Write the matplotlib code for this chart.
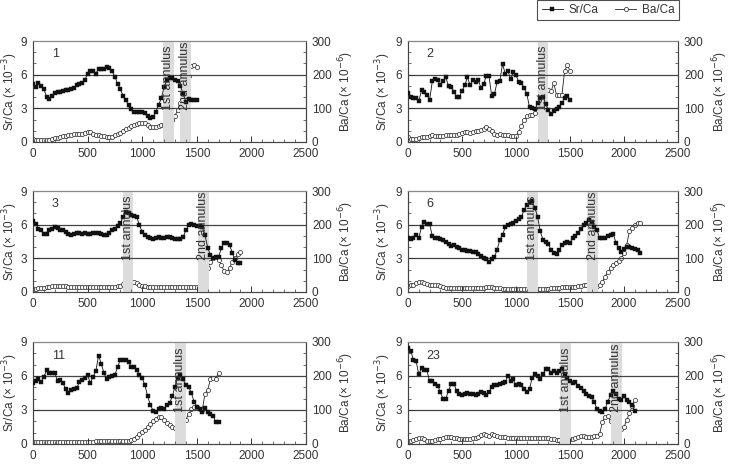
import numpy as np
import matplotlib
matplotlib.use("Agg")
import matplotlib.pyplot as plt
from matplotlib.lines import Line2D
from matplotlib.ticker import MultipleLocator

plt.rcParams['font.family'] = ['Liberation Sans', 'DejaVu Sans']

# ---------------- data ----------------
panel_names = ["1", "2", "3", "6", "11", "23"]
x_step = 25
x_end = [1500, 1500, 1900, 2150, 1700, 2100]

sr1 = [5.2,4.9,5.3,5.0,4.7,4.0,3.8,4.1,4.4,4.5, 4.5,4.55,4.6,4.6,4.7,4.8,5.1,5.2,5.3,5.5,
       6.1,6.3,6.3,6.1,6.5,6.5,6.5,6.65,6.6,6.3, 5.8,5.2,4.7,4.1,3.7,3.3,2.9,2.7,2.7,2.65,
       2.7,2.6,2.3,2.1,2.2,2.7,3.3,3.9,4.9,5.5, 5.7,5.7,5.5,5.4,5.0,4.3,3.6,3.8,3.7,3.75, 3.7]
ba1 = [8,7,7,7,7,6,6,9,12,13, 15,17,18,20,22,23,24,24,25,28,
       30,29,25,22,20,19,18,16,15,16, 20,24,28,33,38,43,48,51,53,55,
       57,55,50,45,45,46,48,50,50,52, 56,65,78,95,115,140,165,195,225,230, 222]

sr2 = [4.4,4.0,3.95,3.95,3.65,4.6,4.5,4.2,3.75,5.4, 5.65,5.5,5.05,5.4,5.75,5.0,4.9,4.5,3.97,4.0,
       4.55,5.05,5.75,5.05,5.5,5.35,5.55,4.85,5.15,5.9, 5.85,4.1,4.25,5.35,5.4,6.95,6.1,6.35,5.6,6.2,
       5.95,5.35,5.3,4.8,4.3,3.1,3.0,2.9,3.5,3.9, 4.0,3.4,2.85,2.5,2.8,2.95,3.1,3.45,3.95,4.1, 3.75]
ba2 = [14,10,9,9,13,14,15,14,17,20, 18,17,19,18,20,21,22,22,21,23,
       26,29,31,28,30,33,34,35,40,44, 38,32,24,22,23,22,21,20,18,17,
       18,30,48,65,76,80,80,85,107,140, 153,156,155,151,175,139,139,139,210,229, 211]

sr3 = [6.3,6.1,5.65,5.5,5.2,5.15,5.5,5.65,5.8,5.7, 5.55,5.5,5.35,5.2,5.1,5.15,5.25,5.3,5.2,5.25,
       5.2,5.2,5.25,5.3,5.25,5.2,5.1,5.1,5.25,5.5, 5.65,5.85,6.15,6.7,7.1,7.0,6.85,6.8,6.7,5.95,
       5.35,5.1,4.9,4.85,4.75,4.8,4.9,4.85,4.85,4.9, 4.9,4.8,4.75,4.7,4.7,4.9,5.5,5.95,6.05,5.95,
       5.9,5.85,5.8,5.05,3.95,3.3,3.0,3.1,3.15,3.9, 4.4,4.4,4.2,3.5,2.85,2.6,2.55]
ba3 = [8,10,11,12,13,14,16,17,17,17, 17,17,17,16,16,15,15,15,15,15,
       15,15,14,14,14,14,14,14,14,15, 16,17,19,23,26,30,31,29,26,22,
       19,17,16,15,15,15,14,14,14,14, 14,14,14,14,14,14,14,14,14,14,
       14,18,30,50,70,90,100,103,95,80, 62,58,72,90,100,112,120]

sr6 = [4.85,4.75,4.8,5.1,4.8,5.8,6.2,6.1,6.05,5.0, 4.85,4.8,4.75,4.65,4.5,4.3,4.1,4.2,4.05,3.9,
       3.7,3.7,3.65,3.65,3.6,3.55,3.35,3.2,3.05,2.9, 2.7,2.9,3.1,3.75,4.65,5.1,5.75,5.95,6.1,6.15,
       6.3,6.5,6.7,7.3,7.75,8.0,8.1,7.5,6.7,5.4, 4.65,4.5,4.3,3.7,3.45,3.4,3.75,4.2,4.4,4.5,
       4.4,4.8,4.95,5.25,5.6,5.95,6.15,6.4,6.25,5.8, 5.5,4.8,4.85,4.85,4.95,5.1,5.2,4.4,3.9,3.6,
       3.8,4.0,4.05,3.95,3.85,3.7,3.5]
ba6 = [18,20,22,27,31,31,27,25,22,21, 21,20,18,15,13,12,12,12,13,12,
       12,12,12,12,12,12,12,13,13,14, 14,14,13,12,11,10,10,9,9,9,
       9,9,9,10,10,10,10,9,9,9, 9,9,10,11,12,13,13,14,14,15,
       15,16,16,17,19,21,22,23,21,19, 18,22,30,46,60,70,80,86,92,100,
       115,140,180,190,200,206,204]

sr11 = [5.35,5.55,5.7,5.5,5.95,6.5,6.3,6.3,6.25,5.55, 5.65,5.35,4.85,4.5,4.8,4.85,4.9,5.5,5.65,5.8,
        6.1,5.35,5.95,6.4,7.8,7.1,6.25,5.7,5.95,6.0, 6.1,6.8,7.45,7.45,7.4,7.25,6.8,6.8,6.5,6.1,
        5.8,5.2,4.2,3.45,2.95,2.85,3.05,3.15,3.1,3.45, 3.6,4.2,5.05,5.8,6.05,5.7,5.2,5.05,4.5,3.75,
        3.3,3.05,2.85,3.15,2.85,2.65,2.5,1.9,1.9]
ba11 = [6,6,6,6,6,6,6,6,6,6, 5,5,5,5,6,6,7,7,7,7,
        7,7,7,8,8,9,10,10,10,10, 10,10,10,10,10,10,12,16,22,28,
        35,42,50,60,68,75,80,78,70,62, 55,50,46,43,55,62,72,88,102,110,
        110,104,100,148,160,190,195,192,210]

sr23 = [8.45,8.2,7.45,7.3,6.15,6.7,6.5,6.5,5.55,5.55, 5.3,5.15,4.55,4.0,4.0,4.7,5.3,5.3,4.7,4.4,
        4.3,4.4,4.5,4.45,4.4,4.3,4.4,4.6,4.5,4.35, 4.55,5.0,5.2,5.2,5.3,5.4,5.45,6.0,5.55,5.7,
        5.2,5.3,5.25,4.85,4.55,4.85,5.85,6.15,6.0,5.7, 6.15,6.6,6.6,6.3,6.45,6.3,6.45,6.6,6.15,5.85,
        5.55,5.35,5.45,5.15,4.9,4.7,4.4,4.2,4.15,3.7, 3.1,2.95,2.85,3.1,3.75,4.3,4.7,4.4,4.0,3.85,
        4.2,3.85,3.7,3.45,2.9]
ba23 = [10,8,11,14,19,17,14,10,8,10, 13,14,16,18,20,22,21,19,17,15,
        14,14,14,15,17,19,22,26,29,27, 25,29,27,25,22,21,20,19,19,18,
        18,19,19,18,17,17,17,18,19,18, 18,17,17,15,14,13,13,19,22,19,
        15,14,17,22,23,23,22,22,21,23, 25,30,65,80,82,68,58,52,48,44,
        50,70,90,112,130]

sr_series = [sr1, sr2, sr3, sr6, sr11, sr23]
ba_series = [ba1, ba2, ba3, ba6, ba11, ba23]

annuli = [
    [(1190, 1290, "1st annulus"), (1345, 1445, "2nd annulus")],
    [(1200, 1300, "1st annulus")],
    [(820, 920, "1st annulus"), (1510, 1610, "2nd annulus")],
    [(1100, 1200, "1st annulus"), (1660, 1760, "2nd annulus")],
    [(1300, 1400, "1st annulus")],
    [(1410, 1510, "1st annulus"), (1880, 1980, "2nd annulus")],
]

# ---------------- layout ----------------
W, H = 729, 466
fig = plt.figure(figsize=(W / 100, H / 100), dpi=100)

col_left = [33, 408]
col_width = [273, 270]
row_top = [41, 191, 342]
row_bottom = [142, 292, 444]
left_label_px = [20, 393]
right_label_px = [336, 710]

txt_col = '#333333'
fs = 8.5

for i in range(6):
    r, c = divmod(i, 2)
    l = col_left[c] / W
    w = col_width[c] / W
    b = (H - row_bottom[r]) / H
    h = (row_bottom[r] - row_top[r]) / H
    ax = fig.add_axes([l, b, w, h])
    ax2 = ax.twinx()

    sr = np.array(sr_series[i])
    ba = np.array(ba_series[i])
    x_sr = np.arange(0, x_end[i] + 1, x_step)[:len(sr)]
    x_ba = np.arange(0, x_end[i] + 1, x_step)[:len(ba)]

    for (a0, a1, lab) in annuli[i]:
        ax.axvspan(a0, a1, color='#dcdcdc', lw=0, zorder=0)
        ax.text((a0 + a1) / 2, 2.85, lab, rotation=90, ha='center', va='bottom',
                fontsize=9, color=txt_col, zorder=6)

    for yy in (3, 6):
        ax.axhline(yy, color='#444444', lw=0.9, zorder=1)

    ax2.plot(x_ba, ba, '-', color='#222222', lw=0.6, marker='o', ms=3.0,
             mfc='white', mec='#222222', mew=0.5, zorder=3)
    ax.plot(x_sr, sr, '-', color='#111111', lw=0.6, marker='s', ms=2.2,
            mfc='#111111', mec='#111111', mew=0.3, zorder=4)

    ax.set_zorder(ax2.get_zorder() + 1)
    ax.patch.set_visible(False)

    ax.set_xlim(0, 2500)
    ax.set_ylim(0, 9)
    ax2.set_ylim(0, 300)
    ax.set_yticks([0, 3, 6, 9])
    ax2.set_yticks([0, 100, 200, 300])
    ax.yaxis.set_minor_locator(MultipleLocator(1))
    ax2.yaxis.set_minor_locator(MultipleLocator(100 / 3))
    ax.set_xticks([0, 500, 1000, 1500, 2000, 2500])
    ax.xaxis.set_minor_locator(MultipleLocator(100))

    for a in (ax, ax2):
        a.tick_params(which='major', direction='in', length=4, width=0.7,
                      colors='#333333', labelsize=fs, labelcolor=txt_col, pad=4.3)
        a.tick_params(which='minor', direction='in', length=2.5, width=0.6, colors='#555555')
        for s in a.spines.values():
            s.set_linewidth(0.8)
            s.set_color('#444444')
    ax.tick_params(axis='x', which='major', pad=4.5)
    ax.spines['top'].set_color('#888888')

    ax.set_ylabel('Sr/Ca (× 10$^{-3}$)', fontsize=fs, color=txt_col)
    ax2.set_ylabel('Ba/Ca (× 10$^{-6}$)', fontsize=fs, color=txt_col, rotation=90)
    ax.yaxis.set_label_coords((left_label_px[c] - col_left[c]) / col_width[c], 0.5)
    ax2.yaxis.set_label_coords((right_label_px[c] - col_left[c]) / col_width[c], 0.5)

    ax.text(170, 7.8, panel_names[i], ha='left', va='center', fontsize=9, color=txt_col)

handles = [
    Line2D([], [], color='#111111', lw=0.6, marker='s', ms=2.2, mfc='#111111', mec='#111111', mew=0.3),
    Line2D([], [], color='#222222', lw=0.6, marker='o', ms=3.0, mfc='white', mec='#222222', mew=0.5),
]
leg = fig.legend(handles, ['Sr/Ca', 'Ba/Ca'], loc='upper right', ncol=2,
                 bbox_to_anchor=(679 / W, 1.0), frameon=True, fancybox=False,
                 fontsize=fs, handlelength=1.8, columnspacing=1.4, handletextpad=0.5,
                 borderpad=0.35, borderaxespad=0.0)
leg.get_frame().set_edgecolor('#222222')
leg.get_frame().set_linewidth(0.8)
for t in leg.get_texts():
    t.set_color(txt_col)

fig.savefig('out.png', dpi=100)
